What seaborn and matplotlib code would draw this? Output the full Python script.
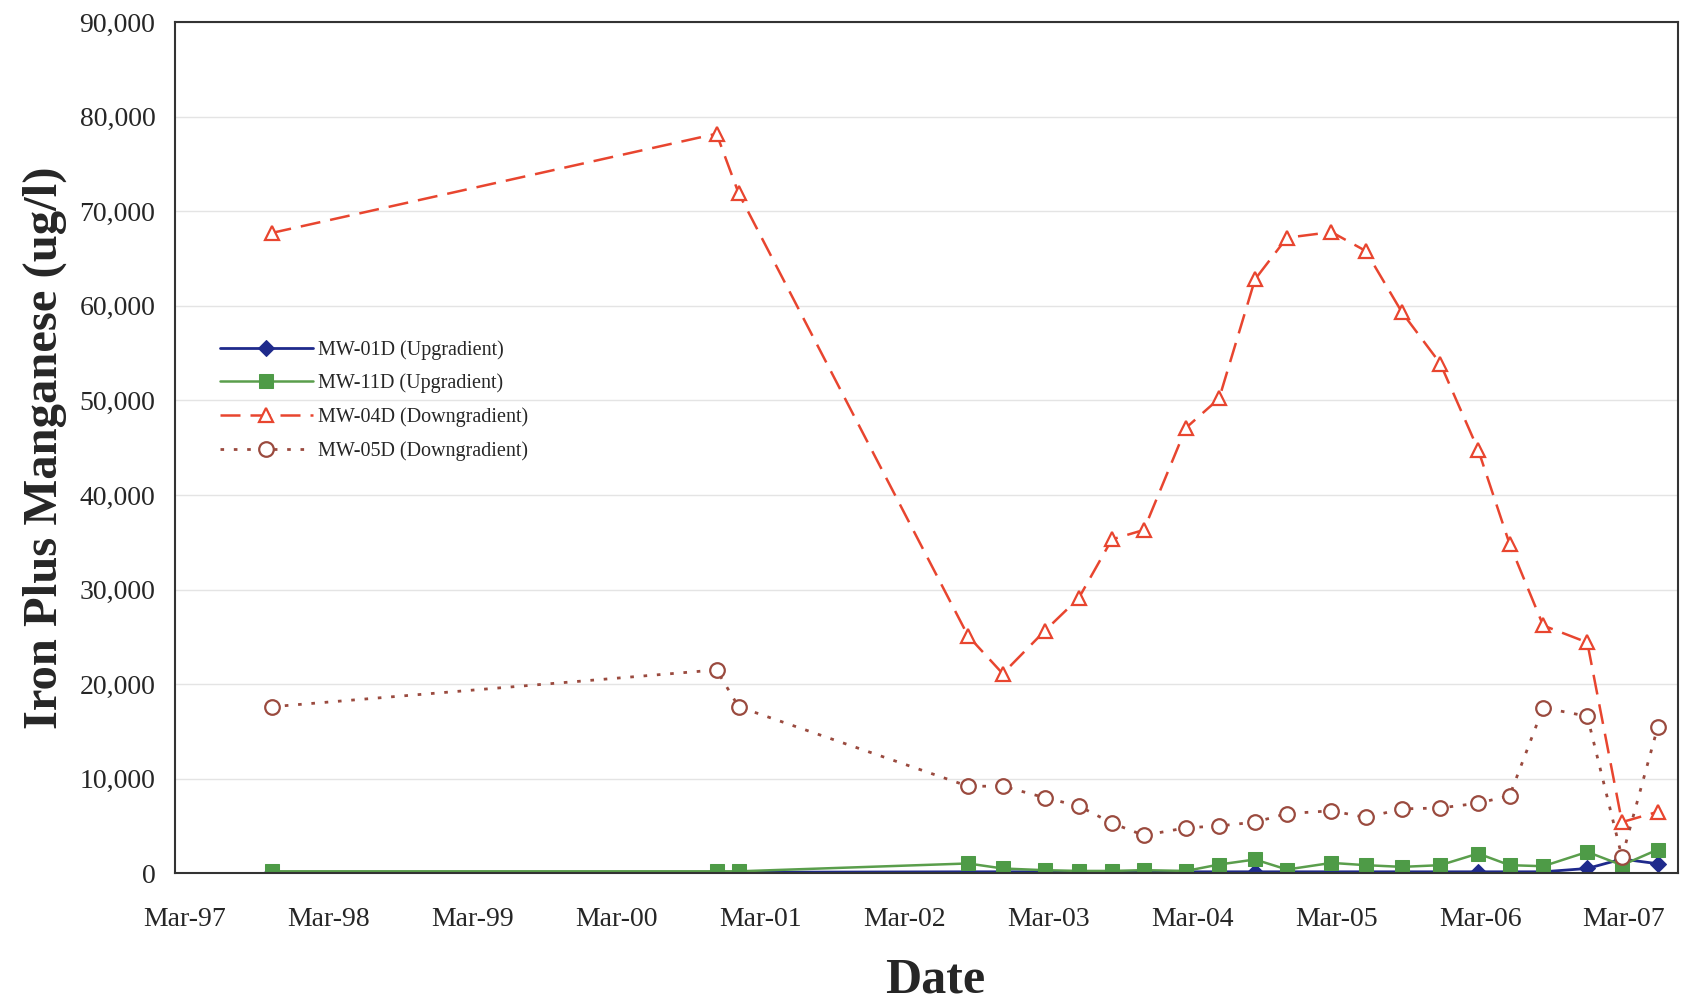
import pandas as pd
import numpy as np
import matplotlib
matplotlib.use("Agg")
import matplotlib.pyplot as plt
import matplotlib.dates as mdates
import seaborn as sns

# fechas de muestreo
dates = ["1997-10-08", "2000-11-10", "2001-01-05", "2002-08-10", "2002-11-06",
         "2003-02-20", "2003-05-18", "2003-08-10", "2003-10-30", "2004-02-14",
         "2004-05-08", "2004-08-07", "2004-10-27", "2005-02-17", "2005-05-15",
         "2005-08-15", "2005-11-20", "2006-02-24", "2006-05-15", "2006-08-08",
         "2006-11-28", "2007-02-24", "2007-05-26"]

mw01d = [100, 100, 100, 150, 150, 150, 150, 150, 150, 150, 150, 150, 150,
         150, 150, 150, 150, 150, 150, 150, 500, 1500, 1000]
mw11d = [200, 200, 200, 1030, 500, 320, 240, 240, 320, 240, 920, 1450, 390,
         1090, 850, 670, 850, 2080, 850, 740, 2250, 850, 2500]
mw04d = [67700, 78200, 71900, 25100, 21100, 25600, 29100, 35300, 36300, 47100,
         50200, 62800, 67200, 67800, 65800, 59300, 53900, 44800, 34800, 26200,
         24400, 5400, 6500]
mw05d = [17600, 21500, 17600, 9200, 9200, 8000, 7100, 5300, 4000, 4800, 5000,
         5400, 6300, 6600, 5900, 6800, 6900, 7400, 8200, 17500, 16600, 1700, 15500]

labels = ["MW-01D (Upgradient)", "MW-11D (Upgradient)",
          "MW-04D (Downgradient)", "MW-05D (Downgradient)"]

df = pd.DataFrame({"date": pd.to_datetime(dates),
                   labels[0]: mw01d, labels[1]: mw11d,
                   labels[2]: mw04d, labels[3]: mw05d})

sns.set_style("white")
plt.rcParams["font.family"] = ["Liberation Serif", "DejaVu Serif"]

fig = plt.figure(figsize=(16.82, 10.06), dpi=100)
ax = fig.add_axes([0.104, 0.132, 0.8936, 0.846])

#estilos de cada pozo
styles = {
    labels[0]: dict(color="#1f2a8c", marker="D", markersize=8, markerfacecolor="#1f2a8c",
                    markeredgecolor="#1f2a8c", linestyle="-", linewidth=2),
    labels[1]: dict(color="#5a9e4c", marker="s", markersize=10, markerfacecolor="#4e9b47",
                    markeredgecolor="#4e9b47", linestyle="-", linewidth=1.8),
    labels[2]: dict(color="#e8452f", marker="^", markersize=10.5, markerfacecolor="white",
                    markeredgecolor="#e8452f", markeredgewidth=1.6, dashes=(8, 4), linewidth=1.8),
    labels[3]: dict(color="#9a4a3e", marker="o", markersize=10.5, markerfacecolor="white",
                    markeredgecolor="#9a4a3e", markeredgewidth=1.6, dashes=(1.3, 3.5), linewidth=2),
}

for lab in labels:
    sns.lineplot(data=df, x="date", y=lab, ax=ax, label=lab, **styles[lab])

ax.set_ylim(0, 90000)
ax.set_yticks(np.arange(0, 90001, 10000))
ax.yaxis.set_major_formatter(matplotlib.ticker.FuncFormatter(lambda v, p: f"{int(v):,}"))
ax.set_xlim(pd.Timestamp("1997-02-05"), pd.Timestamp("2007-07-16"))
ax.xaxis.set_major_locator(mdates.MonthLocator(bymonth=3, bymonthday=1))
ax.xaxis.set_major_formatter(mdates.DateFormatter("%b-%y"))

ax.grid(axis="y", color="#e4e4e4", linewidth=1)
ax.tick_params(axis="both", length=0, labelsize=20)
ax.tick_params(axis="x", pad=24)
ax.tick_params(axis="y", pad=14)
for s in ax.spines.values():
    s.set_color("#333333")
    s.set_linewidth(1.5)

ax.set_xlabel("Date", fontsize=36, fontweight="bold")
ax.xaxis.set_label_coords(0.506, -0.099)
ax.set_ylabel("Iron Plus Manganese (ug/l)", fontsize=35, fontweight="bold", labelpad=9)

ax.legend(loc="upper left", bbox_to_anchor=(0.018, 0.648), frameon=False,
          fontsize=14.5, handlelength=4.6, handletextpad=0.25, labelspacing=0.7)

fig.savefig("out.png", dpi=100)
